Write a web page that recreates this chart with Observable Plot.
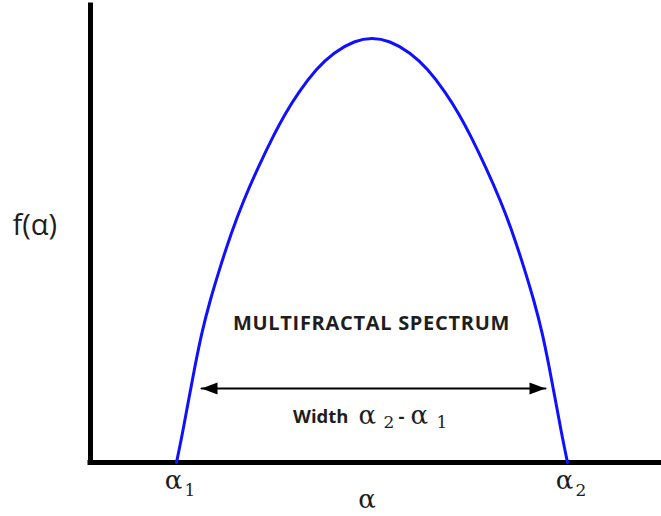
<!DOCTYPE html>
<html>
<head>
<meta charset="utf-8">
<script src="https://cdn.jsdelivr.net/npm/d3@7"></script>
<script src="https://cdn.jsdelivr.net/npm/@observablehq/plot@0.6"></script>
<style>
  body { margin: 0; background: #fff; }
  #chart svg { display: block; }
</style>
</head>
<body>
<div id="chart"></div>
<script>
// Multifractal spectrum f(α): sampled (α, f) pairs along the curve
const alpha = [0.860, 0.920, 0.980, 1.042, 1.110, 1.195, 1.295, 1.405, 1.530, 1.675, 1.840, 1.936, 2.077, 2.261, 2.430, 2.643, 2.815,
               2.987, 3.200, 3.369, 3.553, 3.694, 3.790, 3.955, 4.100, 4.225, 4.335, 4.435, 4.520, 4.588, 4.650, 4.710, 4.770];
const fAlpha = [0.00, 0.29, 0.62, 0.95, 1.29, 1.62, 1.95, 2.29, 2.62, 2.95, 3.29, 3.47, 3.70, 3.94, 4.10, 4.22, 4.25,
                4.22, 4.10, 3.94, 3.70, 3.47, 3.29, 2.95, 2.62, 2.29, 1.95, 1.62, 1.29, 0.95, 0.62, 0.29, 0.00];

// Ends of the spectrum (α1, α2) and their subscripts
const alphaEnds = [0.86, 4.77];
const alphaSubs = ["1", "2"];

// Double-headed width arrow between the two branches
const arrowAlpha = [1.11, 4.55];
const arrowF = 0.74;

// Text
const titleText = "MULTIFRACTAL SPECTRUM";
const widthWord = "Width";
const alphaSymbol = "α";
const minusSign = "-";
const yLabel = "f(α)";
const xLabel = "α";

const xMax = 5.71, yMax = 4.57;

const curve = alpha.map((a, i) => ({a, f: fAlpha[i]}));
const arrow = arrowAlpha.map(a => ({a, f: arrowF}));
const heads = [{a: arrowAlpha[0], f: arrowF, dir: -90}, {a: arrowAlpha[1], f: arrowF, dir: 90}];
const mid = [{a: (arrowAlpha[0] + arrowAlpha[1]) / 2, f: arrowF}];
const ends = alphaEnds.map((a, i) => ({a, sub: alphaSubs[i]}));

// filled triangular arrowhead, tip at the far end of the vector
const triangle = {
  draw(context, l, r) {
    context.moveTo(0, -l);
    context.lineTo(r, 0);
    context.lineTo(-r, 0);
    context.closePath();
  }
};

const sans = "'Open Sans', sans-serif";
const serif = "'DejaVu Serif', serif";
const ink = "#1e1e1e";

// a text piece placed relative to the middle of the width arrow
const piece = (text, o) => Plot.text(mid, {x: "a", y: "f", text: () => text, textAnchor: "start", fill: ink, ...o});

const chart = Plot.plot({
  width: 661,
  height: 516,
  marginLeft: 90,
  marginRight: 0,
  marginTop: 5,
  marginBottom: 54,
  x: {domain: [0, xMax], axis: null},
  y: {domain: [0, yMax], axis: null},
  marks: [
    // axes
    Plot.ruleX([0], {y1: 0, y2: yMax, stroke: "#000", strokeWidth: 5, strokeLinecap: "square"}),
    Plot.ruleY([0], {x1: 0, x2: xMax, stroke: "#000", strokeWidth: 5, strokeLinecap: "square"}),
    // spectrum
    Plot.line(curve, {x: "a", y: "f", stroke: "#1010ff", strokeWidth: 3, curve: "basis"}),
    // width arrow
    Plot.line(arrow, {x: "a", y: "f", stroke: "#000", strokeWidth: 2}),
    Plot.vector(heads, {x: "a", y: "f", rotate: "dir", length: 16, r: 6, shape: triangle, anchor: "end", fill: "#000", stroke: "none"}),
    // labels inside the plot
    piece(titleText, {textAnchor: "middle", dx: -2, dy: -65, fontSize: 20, fontWeight: "bold", fontFamily: sans}),
    piece(widthWord, {textAnchor: "end", dx: -25, dy: 29, fontSize: 18.5, fontWeight: "bold", fontFamily: sans}),
    piece(alphaSymbol, {dx: -15, dy: 27, fontSize: 26, fontFamily: serif}),
    piece(alphaSubs[1], {dx: 10, dy: 34, fontSize: 17, fontFamily: serif}),
    piece(minusSign, {dx: 25, dy: 29, fontSize: 18.5, fontWeight: "bold", fontFamily: sans}),
    piece(alphaSymbol, {dx: 37, dy: 27, fontSize: 26, fontFamily: serif}),
    piece(alphaSubs[0], {dx: 63, dy: 34, fontSize: 17, fontFamily: serif}),
    // α1, α2 under the axis
    Plot.text(ends, {x: "a", text: () => alphaSymbol, frameAnchor: "bottom", lineAnchor: "middle", dx: -3, dy: 18, fontSize: 26, fontFamily: serif, fill: ink}),
    Plot.text(ends, {x: "a", text: "sub", frameAnchor: "bottom", lineAnchor: "middle", textAnchor: "start", dx: 8, dy: 28, fontSize: 17, fontFamily: serif, fill: ink}),
    // axis titles
    Plot.text([xLabel], {text: d => d, frameAnchor: "bottom", lineAnchor: "middle", dx: -9, dy: 37, fontSize: 26, fontFamily: serif, fill: ink}),
    Plot.text([yLabel], {text: d => d, frameAnchor: "left", lineAnchor: "middle", dx: -78, dy: -8, textAnchor: "start", fontSize: 29, fontFamily: sans, fill: ink})
  ]
});

// open up the title's letter spacing a little
d3.select(chart).selectAll("text")
  .filter(function () { return this.textContent === titleText; })
  .style("letter-spacing", "0.7px");

document.getElementById("chart").append(chart);
</script>
</body>
</html>
